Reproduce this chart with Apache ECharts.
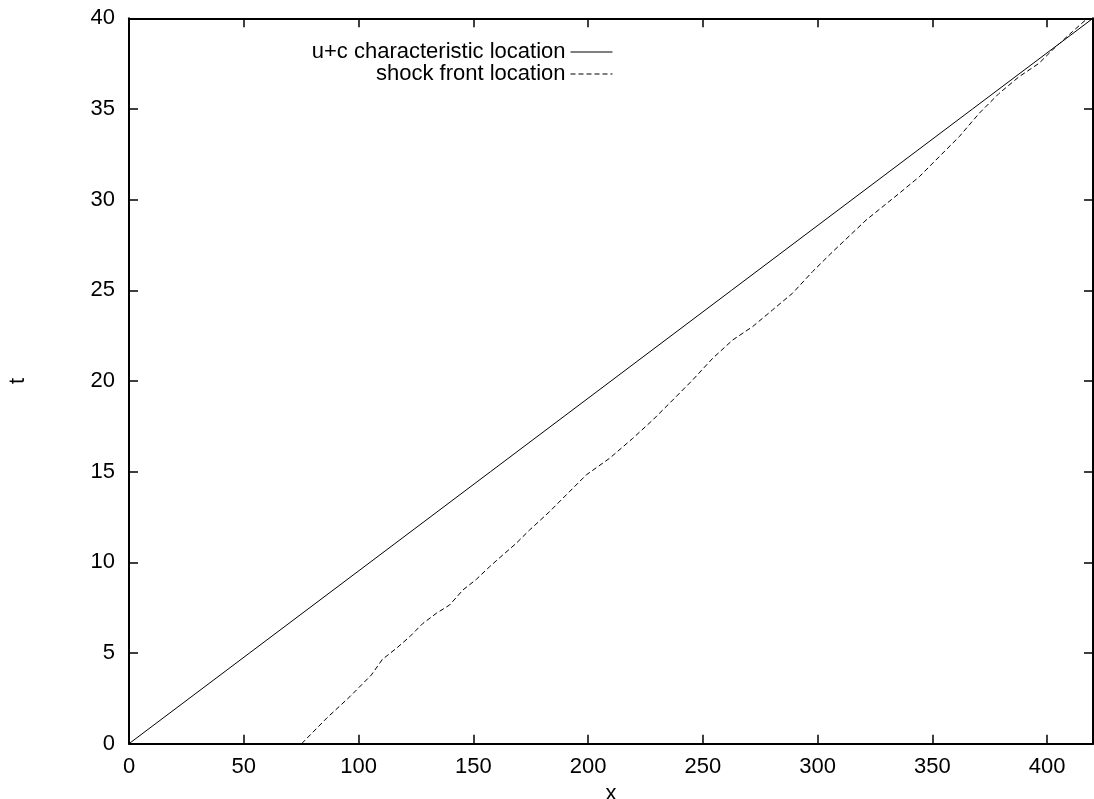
<!DOCTYPE html>
<html>
<head>
<meta charset="utf-8">
<script src="https://cdn.jsdelivr.net/npm/echarts@6/dist/echarts.min.js"></script>
<style>html,body{margin:0;padding:0;background:#fff}#c{width:1094px;height:799px}</style>
</head>
<body>
<div id="c"></div>
<script>
// u+c characteristic location
const charX = [0, 52.5, 105, 157.5, 210, 262.5, 315, 367.5, 420];
const charT = [0, 5, 10, 15, 20, 25, 30, 35, 40];
// shock front location
const shockX = [75.2, 86.3, 96.2, 105.6, 110.4, 116.5, 122.3, 128.1, 133.9, 139.7, 145.5, 151.3, 157.1, 162.9, 168.7, 174.5, 183.2, 189.0, 199.2, 209.4, 219.5, 228.2, 236.9, 245.6, 254.3, 263.0, 271.7, 280.4, 289.1, 297.8, 306.6, 321.1, 335.6, 344.3, 353.0, 361.7, 370.4, 379.1, 387.8, 396.5, 402.3, 411.0, 417.6];
const shockT = [0, 1.43, 2.59, 3.79, 4.65, 5.26, 5.90, 6.64, 7.19, 7.65, 8.48, 9.06, 9.76, 10.41, 11.05, 11.78, 12.79, 13.53, 14.82, 15.74, 16.84, 17.85, 18.95, 20.06, 21.25, 22.26, 23.0, 23.92, 24.84, 26.03, 27.13, 28.87, 30.35, 31.26, 32.37, 33.47, 34.76, 35.86, 36.78, 37.52, 38.25, 39.26, 40];
const seriesNames = ['u+c characteristic location', 'shock front location'];
const xTitle = 'x';
const yTitle = 't';

const FONT = 'Liberation Sans, Arial, Helvetica, sans-serif';
const FS = 22;
const zip = (a, b) => a.map((v, i) => [v, b[i]]);
const axisLineStyle = { color: '#000', width: 2 };
const legendBase = {
  right: 481, align: 'right', padding: 0, itemWidth: 42, itemHeight: 10,
  textStyle: { fontFamily: FONT, fontSize: FS, color: '#000' }, selectedMode: false,
  itemStyle: { opacity: 0 }, lineStyle: { width: 1 }
};

const chart = echarts.init(document.getElementById('c'), null, { renderer: 'canvas' });
chart.setOption({
  backgroundColor: '#fff',
  animation: false,
  grid: { left: 129, right: 1, top: 18.3, bottom: 55.3, containLabel: false, outerBoundsMode: 'none' },
  legend: [
    Object.assign({}, legendBase, { data: [seriesNames[0]], top: 41 }),
    Object.assign({}, legendBase, { data: [seriesNames[1]], top: 63 })
  ],
  xAxis: [
    { type: 'value', min: 0, max: 420, interval: 50, position: 'bottom',
      name: xTitle, nameLocation: 'middle', nameGap: 35,
      nameTextStyle: { fontFamily: FONT, fontSize: FS, color: '#000' },
      axisLine: { show: true, onZero: false, lineStyle: axisLineStyle },
      axisTick: { show: true, inside: true, length: 9, lineStyle: { color: '#000', width: 1.5 } },
      axisLabel: { show: true, margin: 12, showMaxLabel: false, fontFamily: FONT, fontSize: FS, color: '#000' },
      splitLine: { show: false } },
    { type: 'value', min: 0, max: 420, interval: 50, position: 'top',
      axisLine: { show: true, onZero: false, lineStyle: axisLineStyle },
      axisTick: { show: true, inside: true, length: 9, lineStyle: { color: '#000', width: 1.5 } },
      axisLabel: { show: false }, splitLine: { show: false } }
  ],
  yAxis: [
    { type: 'value', min: 0, max: 40, interval: 5, position: 'left',
      name: yTitle, nameLocation: 'middle', nameGap: 100, nameRotate: 90,
      nameTextStyle: { fontFamily: FONT, fontSize: FS, color: '#000' },
      axisLine: { show: true, onZero: false, lineStyle: axisLineStyle },
      axisTick: { show: true, inside: true, length: 9, lineStyle: { color: '#000', width: 1.5 } },
      axisLabel: { show: true, margin: 14, fontFamily: FONT, fontSize: FS, color: '#000' },
      splitLine: { show: false } },
    { type: 'value', min: 0, max: 40, interval: 5, position: 'right',
      axisLine: { show: true, onZero: false, lineStyle: axisLineStyle },
      axisTick: { show: true, inside: true, length: 9, lineStyle: { color: '#000', width: 1.5 } },
      axisLabel: { show: false }, splitLine: { show: false } }
  ],
  series: [
    { name: seriesNames[0], type: 'line', xAxisIndex: 0, yAxisIndex: 0, data: zip(charX, charT),
      symbol: 'none', showSymbol: false, lineStyle: { color: '#000', width: 1, type: 'solid' },
      itemStyle: { color: '#000' } },
    { name: seriesNames[1], type: 'line', xAxisIndex: 0, yAxisIndex: 0, data: zip(shockX, shockT),
      symbol: 'none', showSymbol: false, lineStyle: { color: '#000', width: 1, type: [5, 3] },
      itemStyle: { color: '#000' } }
  ]
});
</script>
</body>
</html>
